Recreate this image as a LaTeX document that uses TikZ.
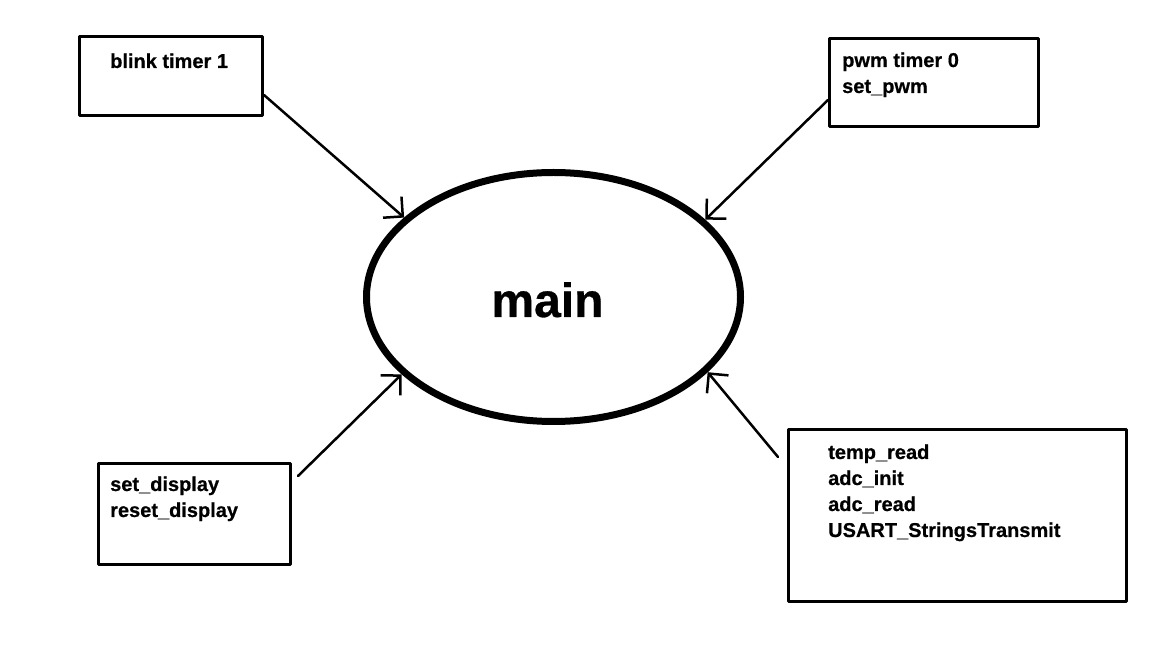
\documentclass[tikz,border=0pt]{standalone}
\usepackage{fontspec}
\setmainfont{Liberation Sans}[BoldFeatures={FakeBold=0.6}]
\usetikzlibrary{arrows.meta,shapes.geometric}

\tikzset{
  box/.style={draw, rectangle, line width=3pt, inner sep=0pt},
  fname/.style={font=\fontsize{20}{26}\selectfont\bfseries, anchor=base west, inner sep=0pt},
  call/.style={-{Straight Barb[length=14pt,width=28pt]}, line width=2.5pt},
}

\begin{document}
\begin{tikzpicture}[x=1pt,y=1pt,line cap=round,line join=round]
\useasboundingbox (0,0) rectangle (1152,648);
% main
\node[draw, ellipse, line width=7pt, inner sep=0pt, minimum width=374pt, minimum height=249pt] (main) at (553.5,351) {};
\node[font=\fontsize{48}{48}\selectfont\bfseries, anchor=base] (mainlabel) at (547.5,331) {main};
% boxes
\node[box, minimum width=183pt, minimum height=79pt] (blink) at (171,572) {};
\node[fname] (blink1) at (110,580) {blink timer 1};
\node[box, minimum width=209pt, minimum height=88pt] (pwm) at (934,565.5) {};
\node[fname] (pwm1) at (842,581) {pwm timer 0};
\node[fname] (pwm2) at (842,555) {set\_pwm};
\node[box, minimum width=192pt, minimum height=101pt] (disp) at (194.5,134) {};
\node[fname] (disp1) at (110,157) {set\_display};
\node[fname] (disp2) at (110,131) {reset\_display};
\node[box, minimum width=338pt, minimum height=172pt] (adc) at (957.5,132.5) {};
\foreach \txt [count=\i] in {temp\_read, adc\_init, adc\_read, USART\_StringsTransmit}
  \node[fname] (adc\i) at (828,215-26*\i) {\txt};
% calls
\draw[call] ([yshift=-19pt]blink.east) -- (main.152);
\draw[call] ([yshift=-17.5pt]pwm.west) -- (main.27);
\draw[call] ([xshift=6pt,yshift=-14pt]disp.north east) -- (main.207.5);
\draw[call] ([xshift=-9pt,yshift=-29pt]adc.north west) -- (main.334);
\end{tikzpicture}
\end{document}
